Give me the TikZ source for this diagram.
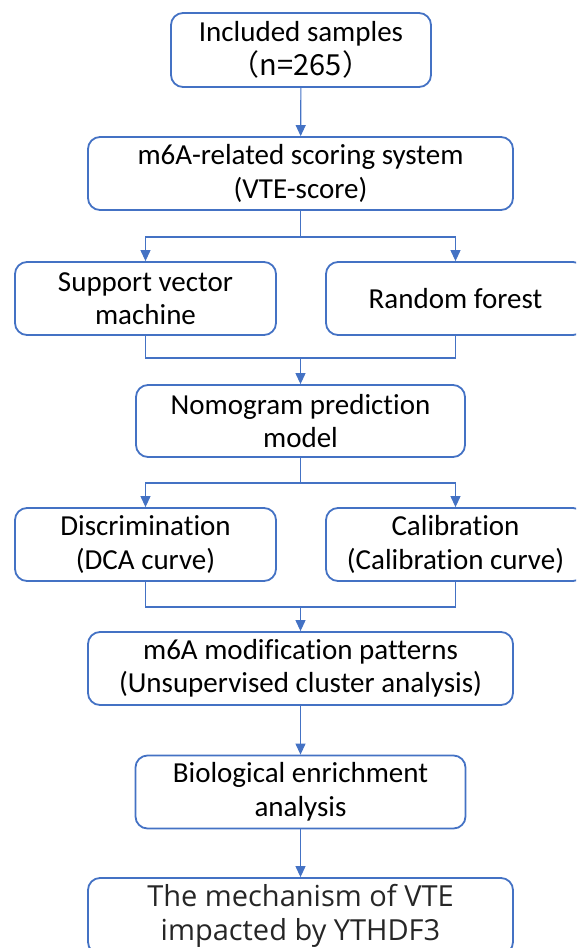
\documentclass[tikz,border=0pt]{standalone}
\usepackage{fontspec}
\setmainfont[Ligatures=NoCommon]{Carlito}
\newfontfamily\cjk{Noto Sans CJK SC}
\newfontfamily\lastfont{Open Sans}
\usetikzlibrary{arrows.meta}
\definecolor{obl}{HTML}{4472C4}
\definecolor{txtg}{HTML}{262626}
\begin{document}
\begin{tikzpicture}[x=1pt,y=-1pt,
  box/.style={draw=obl, line width=1.8pt, rounded corners=12pt, align=center,
    inner sep=0pt, font=\fontsize{29}{33.5}\selectfont, text=black},
  conn/.style={draw=obl, line width=1.1pt},
  arr/.style={conn, -{Triangle[width=10pt,length=11pt]}}]
\useasboundingbox (0,0) rectangle (576,948);
\clip (0,0) rectangle (576,948);
\node[box, minimum width=260pt, minimum height=74pt] (n1) at (301,50) {Included samples\\\cjk{（}n=265\cjk{）}};
\node[box, minimum width=425pt, minimum height=73pt] (n2) at (300.5,173.5) {m6A-related scoring system\\(VTE-score)};
\node[box, minimum width=261pt, minimum height=73pt] (svm) at (145.5,298.5) {Support vector\\machine};
\node[box, minimum width=259pt, minimum height=73pt] (rf) at (455.5,298.5) {Random forest};
\node[box, minimum width=329pt, minimum height=72pt] (nomo) at (300.5,421) {Nomogram prediction\\model};
\node[box, minimum width=261pt, minimum height=73pt] (disc) at (145.5,544.5) {Discrimination\\(DCA curve)};
\node[box, minimum width=259pt, minimum height=73pt] (cal) at (455.5,544.5) {Calibration\\(Calibration curve)};
\node[box, minimum width=425pt, minimum height=73pt] (mod) at (300.5,668.5) {m6A modification patterns\\(Unsupervised cluster analysis)};
\node[box, minimum width=330pt, minimum height=73pt] (bio) at (300.5,792) {Biological enrichment\\analysis};
\node[box, minimum width=425pt, minimum height=76pt, text=txtg, font=\lastfont\fontsize{29}{34}\selectfont] (fin) at (300.5,916) {The mechanism of VTE\\impacted by YTHDF3};
\coordinate (s1) at (300.5,237);
\coordinate (m1) at (300.5,358);
\coordinate (s2) at (300.5,483);
\coordinate (m2) at (300.5,607);
\draw[arr] (n1) -- (n2);
\draw[conn] (n2) -- (s1);
\draw[arr] (s1) -| (svm);
\draw[arr] (s1) -| (rf);
\draw[conn] (svm) |- (m1);
\draw[conn] (rf) |- (m1);
\draw[arr] (m1) -- (nomo);
\draw[conn] (nomo) -- (s2);
\draw[arr] (s2) -| (disc);
\draw[arr] (s2) -| (cal);
\draw[conn] (disc) |- (m2);
\draw[conn] (cal) |- (m2);
\draw[arr] (m2) -- (mod);
\draw[arr] (mod) -- (bio);
\draw[arr] (bio) -- (fin);
\end{tikzpicture}
\end{document}
